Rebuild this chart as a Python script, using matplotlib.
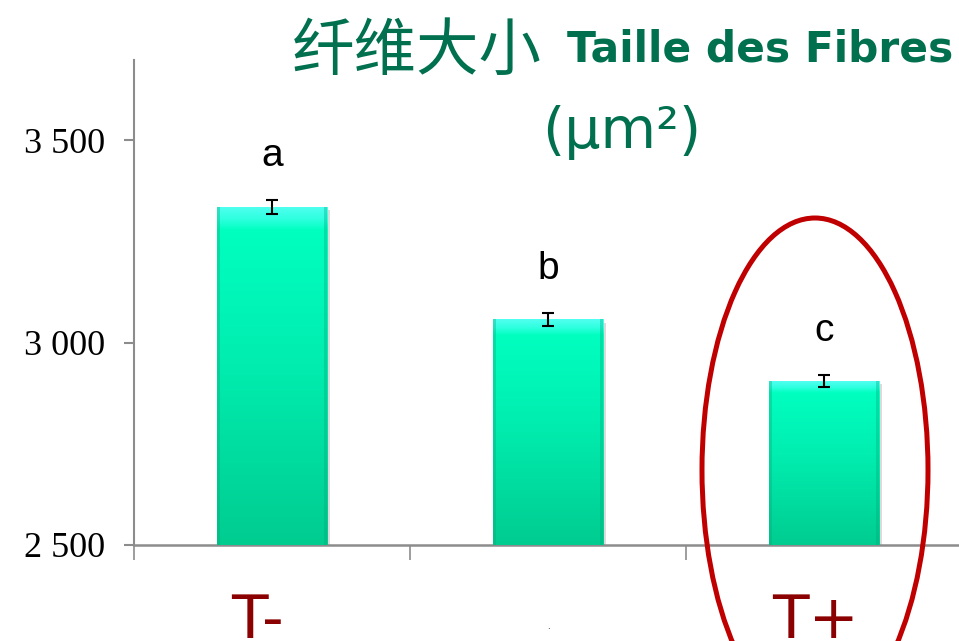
import numpy as np
import matplotlib
matplotlib.use("Agg")
from matplotlib import pyplot as plt
from matplotlib.patches import Ellipse, Rectangle
from matplotlib.colors import LinearSegmentedColormap
from matplotlib.transforms import ScaledTranslation

# data
groups = ["T-", ".", "T+"]
means = [3335, 3057, 2905]
errors = [17, 15, 15]
letters = ["a", "b", "c"]
yticks = [2500, 3000, 3500]
ytick_labels = ["2 500", "3 000", "3 500"]

green = "#00704E"
dark_red = "#8B0000"
grey = "#8C8C8C"

fig = plt.figure(figsize=(9.59, 6.41), dpi=100)
ax = fig.add_axes([0.1397, 0.1498, 0.8634, 0.7566])

x = np.arange(len(groups))
bars = ax.bar(x, [m - 2500 for m in means], bottom=2500, width=0.4,
              color="#00F0B0", edgecolor="none", zorder=2)

# soft shadow behind each bar
for b in bars:
    sh = Rectangle((b.get_x() + 0.012, b.get_y() - 8), b.get_width(),
                   b.get_height(), facecolor="#B0B0B0", alpha=0.45,
                   edgecolor="none", zorder=1)
    ax.add_patch(sh)

# vertical gradient fill, clipped to the bar
cmap = LinearSegmentedColormap.from_list(
    "bar", [(0.0, "#00CC90"), (0.55, "#00EEB0"), (0.93, "#00FFC0"),
            (0.965, "#30FFE0"), (1.0, "#50FFF0")])
grad = np.linspace(0, 1, 256).reshape(-1, 1)
for b in bars:
    x0, y0 = b.get_x(), b.get_y()
    im = ax.imshow(grad, cmap=cmap, origin="lower", aspect="auto",
                   extent=(x0, x0 + b.get_width(), y0, y0 + b.get_height()),
                   zorder=3)
    im.set_clip_path(b)
    # darker side edges
    for xe in (x0, x0 + b.get_width() - 0.012):
        ax.add_patch(Rectangle((xe, y0), 0.012, b.get_height(),
                               facecolor="#00A878", alpha=0.35,
                               edgecolor="none", zorder=4))

ax.errorbar(x, means, yerr=errors, fmt="none", ecolor="black",
            elinewidth=1.5, capsize=4.5, capthick=1.5, zorder=5)

for xi, m, e, lt in zip(x, means, errors, letters):
    ax.annotate(lt, (xi, m + e), xytext=(0, 32), textcoords="offset points",
                ha="center", va="center", fontsize=28,
                family="Liberation Sans", color="black")

ax.set_xlim(-0.5, 2.5)
ax.set_ylim(2500, 3698)

ax.set_yticks(yticks)
ax.set_yticklabels(ytick_labels, family="Liberation Serif", fontsize=26)
ax.tick_params(axis="y", direction="out", length=7, width=1.5,
               color=grey, pad=14)

ax.set_xticks(x)
ax.set_xticklabels(groups, fontsize=43, color=dark_red, family="DejaVu Sans")
ax.set_xticks([-0.5, 0.5, 1.5, 2.5], minor=True)
ax.tick_params(axis="x", which="major", length=0, pad=34)
ax.tick_params(axis="x", which="minor", direction="out", length=11,
               width=1.2, color=grey)
mid = ax.get_xticklabels()[1]
mid.set_fontsize(6)
mid.set_color("black")
mid.set_transform(mid.get_transform() +
                  ScaledTranslation(0, -0.3, fig.dpi_scale_trans))
for lbl, dx in zip(ax.get_xticklabels(), (-0.15, 0, -0.08)):
    if lbl is not mid:
        lbl.set_transform(lbl.get_transform() +
                          ScaledTranslation(dx, 0, fig.dpi_scale_trans))

for s in ("top", "right"):
    ax.spines[s].set_visible(False)
ax.spines["left"].set_color(grey)
ax.spines["left"].set_linewidth(1.5)
ax.spines["bottom"].set_color(grey)
ax.spines["bottom"].set_linewidth(1.8)

# title
fig.text(292 / 959, 1 - 70 / 641, "纤维大小", fontsize=45,
         family="Noto Sans CJK SC", color=green, ha="left", va="baseline")
fig.text(567 / 959, 1 - 62 / 641, "Taille des Fibres", fontsize=30.5,
         family="DejaVu Sans", weight="bold", color=green,
         ha="left", va="baseline")
fig.text(622 / 959, 1 - 132 / 641, "(µm²)", fontsize=41,
         family="DejaVu Sans", color=green, ha="center", va="center")

# red highlight ring around T+
ring = Ellipse((815 / 959, 1 - 470 / 641), 226 / 959, 504 / 641,
               transform=fig.transFigure, fill=False, edgecolor="#C00000",
               linewidth=3.6, zorder=10)
fig.add_artist(ring)

fig.savefig("out.png", dpi=100)
